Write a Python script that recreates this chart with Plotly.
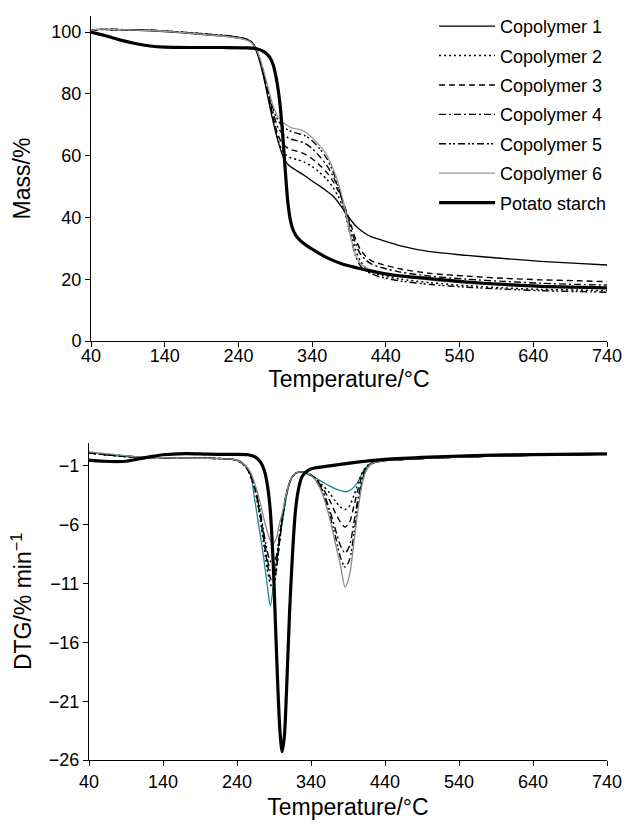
import plotly.graph_objects as go

# ---------------- DATA ----------------
series_names = ["Copolymer 1", "Copolymer 2", "Copolymer 3", "Copolymer 4",
                "Copolymer 5", "Copolymer 6", "Potato starch"]

# TGA (mass %) for copolymers
T_cp_tga = [40, 48, 80, 120, 160, 200, 230, 250, 258, 264, 270, 276, 282, 288, 294, 300,
            306, 312, 320, 330, 340, 350, 360, 368, 375, 381, 387, 393, 399, 405, 412, 420,
            435, 460, 500, 550, 600, 650, 700, 740]
mass_c1 = [100.3, 100.8, 100.7, 100.4, 99.8, 99.0, 98.4, 97.6, 96.6, 94.0, 89.5, 83.5, 76.5,
           70.0, 64.5, 60.0, 57.5, 56.2, 55.0, 53.5, 51.8, 50.2, 48.5, 47.0, 45.0, 43.0, 41.0,
           39.0, 37.3, 36.0, 34.8, 33.8, 32.6, 30.8, 28.9, 27.7, 26.7, 25.8, 25.1, 24.6]
mass_c2 = [100.4, 100.8, 100.8, 100.6, 100.0, 99.2, 98.6, 97.7, 96.7, 94.4, 90.3, 84.5, 77.5,
           71.0, 65.0, 61.5, 60.0, 59.2, 58.7, 57.8, 56.5, 54.6, 52.3, 49.8, 47.0, 43.8, 39.5,
           34.5, 29.5, 26.0, 23.8, 22.4, 21.2, 20.0, 18.9, 17.9, 17.2, 16.7, 16.5, 16.3]
mass_c3 = [100.4, 100.8, 100.8, 100.6, 100.0, 99.2, 98.6, 97.7, 96.7, 94.4, 90.3, 84.7, 78.0,
           71.5, 66.5, 63.8, 62.6, 61.9, 61.4, 60.5, 59.0, 57.0, 54.5, 51.8, 48.8, 45.5, 41.5,
           37.3, 33.0, 29.8, 27.6, 26.0, 24.8, 23.3, 21.9, 21.0, 20.3, 19.8, 19.5, 19.2]
mass_c4 = [100.4, 100.8, 100.8, 100.6, 100.0, 99.3, 98.7, 97.8, 96.8, 94.5, 90.4, 84.8, 78.8,
           73.0, 69.0, 67.0, 66.0, 65.3, 64.8, 64.0, 62.3, 59.8, 56.8, 53.5, 49.8, 45.8, 41.0,
           36.0, 31.5, 28.3, 26.4, 25.0, 23.7, 22.3, 21.0, 20.0, 19.3, 18.7, 18.3, 18.1]
mass_c5 = [100.4, 100.8, 100.8, 100.6, 100.0, 99.3, 98.7, 97.8, 96.8, 94.5, 90.5, 85.0, 79.5,
           74.5, 71.3, 69.5, 68.5, 67.8, 67.2, 66.5, 64.8, 62.3, 59.0, 55.0, 50.5, 45.5, 39.5,
           33.0, 27.5, 24.5, 22.8, 21.8, 20.6, 19.4, 18.3, 17.4, 16.8, 16.3, 16.0, 15.8]
mass_c6 = [100.4, 100.9, 100.8, 100.5, 99.9, 99.1, 98.4, 97.5, 96.5, 94.5, 91.0, 86.0, 80.5,
           75.5, 72.5, 70.8, 69.8, 69.0, 68.6, 67.8, 65.8, 63.3, 60.2, 56.0, 51.5, 46.5, 40.0,
           33.0, 27.8, 25.2, 23.9, 23.0, 22.0, 20.9, 19.7, 18.7, 18.0, 17.5, 17.2, 17.0]

# TGA potato starch
T_ps_tga = [40, 60, 80, 100, 120, 140, 180, 220, 250, 265, 275, 282, 287, 291, 295, 299, 303,
            307, 311, 315, 320, 330, 345, 360, 380, 400, 420, 450, 500, 550, 600, 650, 700, 740]
mass_ps = [100.0, 98.8, 97.4, 96.3, 95.5, 95.1, 95.0, 95.0, 94.9, 94.6, 93.6, 92.0, 89.5, 85.5,
           79.5, 70.0, 57.0, 45.0, 38.5, 35.5, 33.5, 31.3, 29.0, 27.0, 25.0, 23.7, 22.6, 21.3,
           20.2, 19.1, 18.3, 17.7, 17.4, 17.2]

# DTG (%/min) for copolymers
T_cp_dtg = [40, 70, 100, 140, 200, 235, 245, 252, 258, 264, 270, 276, 281, 285, 289, 293, 297,
            302, 308, 314, 320, 327, 335, 345, 355, 365, 373, 380, 386, 392, 398, 404, 410, 416,
            422, 440, 480, 540, 620, 740]
dtg_c1 = [0.15, -0.1, -0.25, -0.3, -0.35, -0.45, -0.6, -1.1, -1.7, -3.9, -6.3, -8.8, -11.2,
          -12.9, -11.3, -9.2, -7.4, -5.5, -3.2, -2.0, -1.6, -1.55, -1.7, -2.0, -2.35, -2.7,
          -2.95, -3.1, -3.2, -3.1, -2.8, -2.3, -1.5, -1.0, -0.75, -0.55, -0.4, -0.25, -0.12, 0.0]
dtg_c2 = [0.1, -0.1, -0.25, -0.3, -0.35, -0.45, -0.7, -1.1, -1.8, -3.0, -5.0, -7.6, -9.8,
          -11.0, -11.5, -10.0, -7.8, -5.3, -3.1, -2.0, -1.6, -1.5, -1.6, -2.0, -2.6, -3.3,
          -4.0, -4.5, -4.7, -4.4, -3.5, -2.4, -1.5, -1.0, -0.75, -0.55, -0.4, -0.25, -0.12, 0.0]
dtg_c3 = [0.1, -0.1, -0.25, -0.3, -0.35, -0.45, -0.7, -1.1, -1.8, -2.9, -4.8, -7.2, -9.3,
          -10.5, -11.0, -9.9, -7.7, -5.2, -3.1, -2.0, -1.6, -1.5, -1.6, -2.0, -2.8, -3.9,
          -5.0, -5.8, -6.2, -5.8, -4.4, -2.9, -1.7, -1.05, -0.78, -0.55, -0.4, -0.25, -0.12, 0.0]
dtg_c4 = [0.1, -0.1, -0.25, -0.3, -0.35, -0.45, -0.7, -1.1, -1.7, -2.8, -4.6, -6.9, -8.9,
          -9.9, -10.2, -9.3, -7.4, -5.0, -3.0, -2.0, -1.6, -1.5, -1.6, -2.0, -3.0, -4.7,
          -6.4, -7.8, -8.4, -7.8, -5.8, -3.6, -2.0, -1.15, -0.8, -0.55, -0.4, -0.25, -0.12, 0.0]
dtg_c5 = [0.1, -0.05, -0.2, -0.3, -0.35, -0.45, -0.7, -1.0, -1.6, -2.7, -4.4, -6.6, -8.3,
          -9.1, -9.3, -8.7, -7.0, -4.9, -3.0, -2.0, -1.6, -1.5, -1.6, -2.1, -3.2, -5.1,
          -7.0, -8.8, -9.6, -9.0, -6.8, -4.0, -2.1, -1.2, -0.8, -0.55, -0.4, -0.25, -0.12, 0.0]
dtg_c6 = [0.2, 0.0, -0.2, -0.3, -0.35, -0.45, -0.7, -1.0, -1.5, -2.5, -3.8, -5.4, -6.6,
          -7.3, -7.6, -7.2, -6.0, -4.8, -3.0, -2.0, -1.6, -1.5, -1.6, -2.1, -3.3, -5.4,
          -7.6, -9.5, -11.3, -10.3, -7.5, -4.5, -2.3, -1.2, -0.8, -0.55, -0.4, -0.25, -0.12, 0.0]

# DTG potato starch
T_ps_dtg = [40, 60, 90, 120, 140, 170, 200, 230, 255, 265, 272, 277, 281, 285, 289, 292, 295,
            298, 301, 304, 307, 311, 315, 319, 323, 328, 338, 365, 400, 440, 500, 560, 640, 740]
dtg_ps = [-0.5, -0.6, -0.6, -0.25, -0.05, 0.05, 0.0, -0.02, -0.05, -0.25, -0.7, -1.4, -2.6,
          -4.8, -9.4, -14.5, -19.5, -23.5, -25.3, -24.0, -20.0, -13.5, -8.5, -4.8, -3.0, -1.9,
          -1.3, -1.0, -0.7, -0.45, -0.25, -0.12, -0.03, 0.02]

x_ticks = [40, 140, 240, 340, 440, 540, 640, 740]
mass_ticks = [0, 20, 40, 60, 80, 100]
dtg_ticks = [-26, -21, -16, -11, -6, -1]

# ---------------- STYLES ----------------
tga_sets = [mass_c1, mass_c2, mass_c3, mass_c4, mass_c5, mass_c6]
dtg_sets = [dtg_c1, dtg_c2, dtg_c3, dtg_c4, dtg_c5, dtg_c6]
dashes = ["solid", "2px,3px", "6px,4px", "7px,3px,2px,3px", "7px,3px,2px,2px,2px,3px", "solid"]
tga_colors = ["#000000", "#000000", "#000000", "#000000", "#000000", "#9a9a9a"]
dtg_colors = ["#1b8a8a", "#000000", "#000000", "#000000", "#000000", "#8a8a8a"]
widths = [1.3, 1.5, 1.4, 1.4, 1.4, 1.3]

FONT = "Liberation Sans, Arial, Helvetica, sans-serif"

fig = go.Figure()
for i in range(6):
    fig.add_trace(go.Scatter(
        x=T_cp_tga, y=tga_sets[i], name=series_names[i], mode="lines",
        line=dict(color=tga_colors[i], width=widths[i], dash=dashes[i], shape="spline", smoothing=0.8),
        legendgroup=series_names[i], xaxis="x", yaxis="y"))
fig.add_trace(go.Scatter(
    x=T_ps_tga, y=mass_ps, name=series_names[6], mode="lines",
    line=dict(color="#000000", width=3.2, shape="spline", smoothing=0.8),
    legendgroup=series_names[6], xaxis="x", yaxis="y"))

for i in range(6):
    fig.add_trace(go.Scatter(
        x=T_cp_dtg, y=dtg_sets[i], name=series_names[i], mode="lines",
        line=dict(color=dtg_colors[i], width=widths[i], dash=dashes[i], shape="spline", smoothing=0.8),
        legendgroup=series_names[i], showlegend=False, xaxis="x2", yaxis="y2"))
fig.add_trace(go.Scatter(
    x=T_ps_dtg, y=dtg_ps, name=series_names[6], mode="lines",
    line=dict(color="#000000", width=3.2, shape="spline", smoothing=0.8),
    legendgroup=series_names[6], showlegend=False, xaxis="x2", yaxis="y2"))

W, H = 627, 824
axis_common = dict(showline=True, linecolor="black", linewidth=1, ticks="outside",
                   ticklen=5, tickcolor="black", tickwidth=1, showgrid=False, zeroline=False,
                   tickfont=dict(size=18, color="black", family=FONT), automargin=False)

fig.update_layout(
    width=W, height=H, margin=dict(l=0, r=0, t=0, b=0),
    paper_bgcolor="white", plot_bgcolor="white",
    font=dict(family=FONT, color="black"),
    xaxis=dict(domain=[91 / W, 607 / W], range=[40, 740], tickvals=x_ticks, anchor="y",
               ticklabelstandoff=-7,
               title=dict(text="Temperature/°C", font=dict(size=23), standoff=6), **axis_common),
    yaxis=dict(domain=[1 - 341 / H, 1 - 16 / H], range=[0, 105.2], tickvals=mass_ticks, anchor="x",
               title=dict(text="Mass/%", font=dict(size=23), standoff=14), **axis_common),
    xaxis2=dict(domain=[89 / W, 607 / W], range=[40, 740], tickvals=x_ticks, anchor="y2",
                title=dict(text="Temperature/°C", font=dict(size=23), standoff=8), **axis_common),
    yaxis2=dict(domain=[1 - 760 / H, 1 - 443 / H], range=[-26, 0.95], tickvals=dtg_ticks, anchor="x2",
                title=dict(text="DTG/% min<sup>−1</sup>", font=dict(size=23), standoff=10), **axis_common),
    legend=dict(x=434 / W, y=1 - 8 / H, xanchor="left", yanchor="top",
                font=dict(size=18, color="black", family=FONT), itemwidth=56,
                tracegroupgap=3, bgcolor="rgba(0,0,0,0)"),
    showlegend=True,
)

fig.write_html(
    "out.html",
    config={"displayModeBar": False},
    post_script="document.body.style.margin='0';document.body.style.overflow='hidden';"
                "document.documentElement.style.overflow='hidden';",
)
